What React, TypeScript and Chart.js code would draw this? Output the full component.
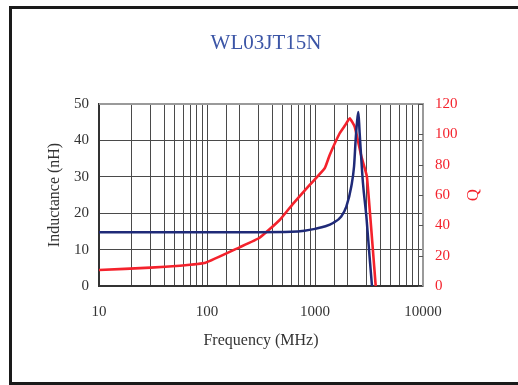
import React, { useEffect, useRef } from "react";
import { Chart, registerables } from "chart.js";

Chart.register(...registerables);

const chartTitle = "WL03JT15N";
const xTitle = "Frequency (MHz)";
const yTitle = "Inductance (nH)";
const y1Title = "Q";
const decadeLabels = [10, 100, 1000, 10000];

const freqL = [10, 100, 300, 600, 800, 1000, 1250, 1470, 1750, 1950, 2170, 2300, 2380, 2450, 2520, 2590, 2780, 2990, 3200, 3370];
const inductance = [14.8, 14.8, 14.8, 14.9, 15.2, 15.7, 16.4, 17.3, 19.1, 21.8, 27.4, 32.9, 40.2, 45.0, 47.8, 42.1, 28.3, 19.1, 8.1, 0];

const freqQ = [10, 30, 56, 97, 200, 307, 471, 625, 893, 1230, 1368, 1693, 1900, 2095, 2333, 2690, 3024, 3648];
const qValues = [10.5, 12.1, 13.4, 15.4, 25.5, 31.8, 43.5, 54.2, 66.6, 77.6, 86.4, 100.7, 106.0, 110.6, 105.0, 85.3, 72.1, 0];

const SERIF = "'Liberation Serif', 'Times New Roman', serif";
const BLUE = "#1f2a78";
const RED = "#f4222c";

const extras = {
  id: "extras",
  afterDraw(chart: any) {
    const { ctx, chartArea } = chart;
    const y1 = chart.scales.y1;
    ctx.save();
    ctx.strokeStyle = "#9a9a9a";
    ctx.lineWidth = 2;
    ctx.beginPath();
    ctx.moveTo(chartArea.left, chartArea.top);
    ctx.lineTo(chartArea.right + 1, chartArea.top);
    ctx.stroke();
    ctx.strokeStyle = "#555";
    ctx.lineWidth = 1;
    y1.ticks.forEach((t: any) => {
      const py = Math.round(y1.getPixelForValue(t.value)) + 0.5;
      ctx.beginPath();
      ctx.moveTo(chartArea.right - 5, py);
      ctx.lineTo(chartArea.right, py);
      ctx.stroke();
    });
    ctx.fillStyle = "#3b55a6";
    ctx.font = `21px ${SERIF}`;
    ctx.textAlign = "center";
    ctx.textBaseline = "middle";
    ctx.fillText(chartTitle, chart.width / 2 + 7, 43);
    ctx.fillStyle = RED;
    ctx.font = `17px ${SERIF}`;
    ctx.translate(y1.right - 44, (chartArea.top + chartArea.bottom) / 2);
    ctx.rotate(-Math.PI / 2);
    ctx.fillText(y1Title, 0, 0);
    ctx.restore();
  },
};

export default function App() {
  const ref = useRef<HTMLCanvasElement>(null);

  useEffect(() => {
    if (!ref.current) return;
    const chart = new Chart(ref.current, {
      type: "line",
      data: {
        datasets: [
          {
            label: "Inductance",
            data: freqL.map((f, i) => ({ x: f, y: inductance[i] })),
            borderColor: BLUE,
            borderWidth: 2.5,
            pointRadius: 0,
            cubicInterpolationMode: "monotone",
            yAxisID: "y",
          },
          {
            label: "Q",
            data: freqQ.map((f, i) => ({ x: f, y: qValues[i] })),
            borderColor: RED,
            borderWidth: 2.6,
            pointRadius: 0,
            tension: 0.12,
            yAxisID: "y1",
          },
        ],
      },
      options: {
        animation: false,
        responsive: false,
        layout: { padding: { top: 104, left: 0, right: 0, bottom: 0 } },
        plugins: { legend: { display: false }, tooltip: { enabled: false }, title: { display: false } },
        scales: {
          x: {
            type: "logarithmic",
            min: 10,
            max: 10000,
            afterFit: (s: any) => { s.height = 99; },
            grid: { color: "#4a4a4a", lineWidth: 1, drawTicks: false },
            border: { color: "#333", width: 2 },
            ticks: {
              autoSkip: false,
              maxRotation: 0,
              padding: 17,
              color: "#333",
              font: { family: SERIF, size: 15 },
              callback: (v: any) => (decadeLabels.includes(Number(v)) ? String(v) : ""),
            },
            title: {
              display: true,
              text: xTitle,
              color: "#333",
              font: { family: SERIF, size: 16 },
              padding: { top: 0, bottom: 35 },
            },
          },
          y: {
            position: "left",
            min: 0,
            max: 50,
            afterFit: (s: any) => { s.width = 99; },
            grid: { color: "#4a4a4a", lineWidth: 1, drawTicks: false },
            border: { color: "#333", width: 2 },
            ticks: { stepSize: 10, padding: 10, color: "#333", font: { family: SERIF, size: 15 } },
            title: {
              display: true,
              text: yTitle,
              color: "#333",
              font: { family: SERIF, size: 16 },
              padding: { top: 45, bottom: 0 },
            },
          },
          y1: {
            position: "right",
            min: 0,
            max: 120,
            afterFit: (s: any) => { s.width = 95; },
            grid: { drawOnChartArea: false, drawTicks: false },
            border: { color: "#9a9a9a", width: 2 },
            ticks: { stepSize: 20, padding: 12, color: RED, font: { family: SERIF, size: 15 } },
          },
        },
      },
      plugins: [extras],
    } as any);
    return () => chart.destroy();
  }, []);

  return (
    <div style={{ position: "absolute", left: 0, top: 0, width: 518, height: 385, background: "#fff" }}>
      <div
        style={{
          position: "absolute",
          left: 9,
          top: 6,
          width: 509,
          height: 379,
          boxSizing: "border-box",
          borderLeft: "3px solid #1a1a1a",
          borderTop: "3px solid #1a1a1a",
          borderBottom: "3px solid #1a1a1a",
        }}
      />
      <canvas ref={ref} width={518} height={385} style={{ position: "absolute", left: 0, top: 0 }} />
    </div>
  );
}
